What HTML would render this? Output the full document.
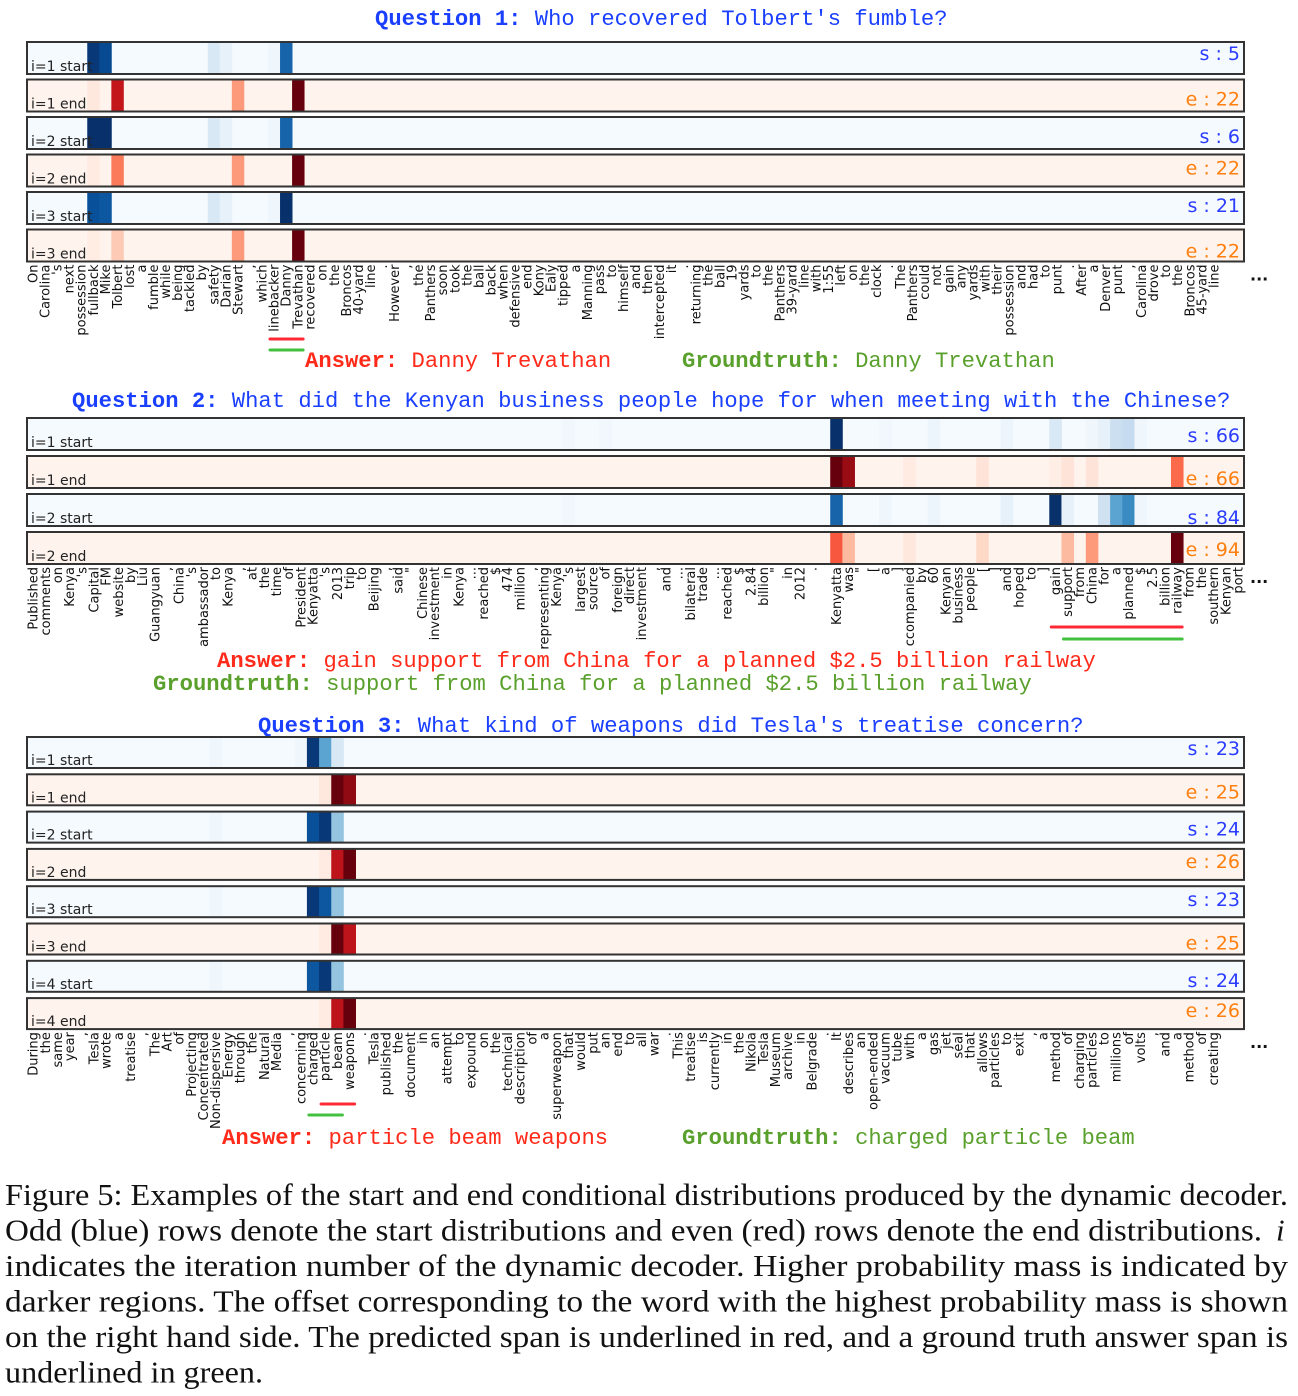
<!DOCTYPE html>
<html><head><meta charset="utf-8"><style>
html,body{margin:0;padding:0;background:#fff;}
svg{display:block;}
</style></head><body>
<svg id="fig" xmlns="http://www.w3.org/2000/svg" width="1298" height="1396" viewBox="0 0 1298 1396"></svg>
<script>
// ---------- data ----------
const tokens1 = ["On","Carolina","'s","next","possession","fullback","Mike","Tolbert","lost","a","fumble","while","being","tackled","by","safety","Darian","Stewart",",","which","linebacker","Danny","Trevathan","recovered","on","the","Broncos","40-yard","line",".","However",",","the","Panthers","soon","took","the","ball","back","when","defensive","end","Kony","Ealy","tipped","a","Manning","pass","to","himself","and","then","intercepted","it",".","returning","the","ball","19","yards","to","the","Panthers","39-yard","line","with","1:55","left","on","the","clock",".","The","Panthers","could","not","gain","any","yards","with","their","possession","and","had","to","punt",".","After","a","Denver","punt",",","Carolina","drove","to","the","Broncos","45-yard","line","",""];
const tokens2 = ["Published","comments","on","Kenya","'s","Capital","FM","website","by","Liu","Guangyuan",",","China","'s","ambassador","to","Kenya",",","at","the","time","of","President","Kenyatta","'s","2013","trip","to","Beijing",",","said","\"","Chinese","investment","in","Kenya","...","reached","$","474","million",",","representing","Kenya","'s","largest","source","of","foreign","direct","investment",",","and","...","bilateral","trade","...","reached","$","2.84","billion","\"","in","2012",".","","Kenyatta","was","\"","[","a","]","ccompanied","by","60","Kenyan","business","people","[","]","and","hoped","to","]","gain","support","from","China","for","a","planned","$","2.5","billion","railway","from","the","southern","Kenyan","port"];
const tokens3 = ["During","the","same","year",",","Tesla","wrote","a","treatise",",","The","Art","of","Projecting","Concentrated","Non-dispersive","Energy","through","the","Natural","Media",",","concerning","charged","particle","beam","weapons",".","Tesla","published","the","document","in","an","attempt","to","expound","on","the","technical","description","of","a","superweapon","that","would","put","an","end","to","all","war",".","This","treatise","is","currently","in","the","Nikola","Tesla","Museum","archive","in","Belgrade",".","It","describes","an","open-ended","vacuum","tube","with","a","gas","jet","seal","that","allows","particles","to","exit",",","a","method","of","charging","particles","to","millions","of","volts",",","and","a","method","of","creating","",""];

// sparse heat values per row: [tokenIndex, probability-intensity 0..1]
const p1r1 = [[5,0.97],[6,0.9],[15,0.15],[16,0.08],[20,0.04],[21,0.8]];
const p1r2 = [[5,0.08],[7,0.78],[17,0.35],[22,1.0]];
const p1r3 = [[5,1.0],[6,1.0],[15,0.15],[16,0.08],[20,0.04],[21,0.8]];
const p1r4 = [[5,0.06],[7,0.45],[17,0.35],[22,1.0]];
const p1r5 = [[5,0.88],[6,0.85],[15,0.15],[16,0.08],[20,0.04],[21,1.0]];
const p1r6 = [[5,0.05],[7,0.2],[17,0.35],[22,1.0]];
const p2r1 = [[44,0.03],[47,0.03],[66,1.0],[70,0.03],[74,0.05],[80,0.05],[84,0.15],[87,0.04],[88,0.08],[89,0.22],[90,0.25],[91,0.04]];
const p2r2 = [[66,1.0],[67,0.9],[72,0.06],[78,0.1],[84,0.04],[85,0.1],[87,0.1],[94,0.5]];
const p2r3 = [[44,0.03],[66,0.8],[70,0.04],[74,0.05],[80,0.08],[84,1.0],[85,0.08],[88,0.2],[89,0.55],[90,0.65],[91,0.04]];
const p2r4 = [[66,0.55],[67,0.25],[72,0.08],[78,0.15],[85,0.25],[87,0.35],[94,1.0]];
const p3r1 = [[15,0.04],[22,0.04],[23,0.97],[24,0.55],[25,0.15]];
const p3r2 = [[24,0.08],[25,1.0],[26,0.92]];
const p3r3 = [[15,0.04],[23,0.88],[24,0.97],[25,0.4]];
const p3r4 = [[24,0.06],[25,0.8],[26,1.0]];
const p3r5 = [[15,0.04],[23,0.97],[24,0.85],[25,0.4]];
const p3r6 = [[24,0.06],[25,1.0],[26,0.8]];
const p3r7 = [[15,0.04],[23,0.85],[24,0.97],[25,0.4]];
const p3r8 = [[24,0.06],[25,0.8],[26,1.0]];

const offsets1 = ["s : 5","e : 22","s : 6","e : 22","s : 21","e : 22"];
const offsets2 = ["s : 66","e : 66","s : 84","e : 94"];
const offsets3 = ["s : 23","e : 25","s : 24","e : 26","s : 23","e : 25","s : 24","e : 26"];

// ---------- helpers ----------
const NS = "http://www.w3.org/2000/svg";
const svg = document.getElementById('fig');
function mk(tag, attrs, parent){ const e=document.createElementNS(NS,tag); for(const k in attrs) e.setAttribute(k,attrs[k]); (parent||svg).appendChild(e); return e; }
const BL=["#f7fbff","#deebf7","#c6dbef","#9ecae1","#6baed6","#4292c6","#2171b5","#08519c","#08306b"];
const RD=["#fff5f0","#fee0d2","#fcbba1","#fc9272","#fb6a4a","#ef3b2c","#cb181d","#a50f15","#67000d"];
function hex(c){return [parseInt(c.substr(1,2),16),parseInt(c.substr(3,2),16),parseInt(c.substr(5,2),16)];}
function cmap(arr,v){ v=Math.max(0,Math.min(1,v)); const t=v*(arr.length-1); const i=Math.min(arr.length-2,Math.floor(t)); const f=t-i; const a=hex(arr[i]),b=hex(arr[i+1]); return "rgb("+a.map((x,k)=>Math.round(x+(b[k]-x)*f)).join(",")+")"; }

const X0=27, X1=1244;
function drawPanel(p){
  const n=p.tokens.length; const w=(X1-X0)/n;
  const xs = i => X0 + i*w;
  const g = mk('g',{});
  
  
  p.rows.forEach((row,r)=>{
    const isStart = r%2===0;
    const top = p.top + r*p.pitch;
    const rg = mk('g',{},g);
    
    
    const bgc = cmap(isStart?BL:RD, 0.01);
    mk('rect',{x:X0,y:top,width:X1-X0,height:p.h,fill:bgc},rg);
    row.forEach(([i,v])=>{
      const c = mk('rect',{x:xs(i).toFixed(2),y:top,width:(w+0.4).toFixed(2),height:p.h,fill:cmap(isStart?BL:RD,v)},rg);
      
      
    });
    mk('rect',{x:X0,y:top,width:X1-X0,height:p.h,fill:"none",stroke:"#333",'stroke-width':2},rg);
    const lab = mk('text',{x:31,y:top+p.h-3,'font-family':'DejaVu Sans, Liberation Sans, sans-serif','font-size':14,fill:'#222'},rg);
    lab.textContent = 'i='+(Math.floor(r/2)+1)+(isStart?' start':' end');
    
    
    const off = mk('text',{x:1240,y:top+p.offY[r],'text-anchor':'end','font-family':'DejaVu Sans, Liberation Sans, sans-serif','font-size':19,fill:isStart?'#2a3cff':'#ff7f0e'},rg);
    off.textContent = p.offsets[r];
    
    
  });
  const ly = p.top + (p.rows.length-1)*p.pitch + p.h + 3;
  p.tokens.forEach((t,i)=>{
    if(!t) return;
    const cx = xs(i)+w/2+4.5;
    const tx = mk('text',{x:0,y:0,transform:`translate(${cx.toFixed(2)},${ly}) rotate(-90)`,'text-anchor':'end','font-family':'DejaVu Sans, Liberation Sans, sans-serif','font-size':13,fill:'#111'},g);
    tx.textContent=t;
    
    
  });
  const el = mk('text',{x:1250,y:ly+16,'font-family':'DejaVu Sans, sans-serif','font-size':16,'font-weight':'bold',fill:'#111'},g);
  el.textContent='...';
  
  
  p.unders.forEach(([a,b,y,col])=>{
    const ln = mk('line',{x1:xs(a)+2,x2:xs(b+1)-1,y1:y,y2:y,stroke:col,'stroke-width':3,'stroke-linecap':'round'},g);
    
    
  });
}

function title(x,y,label,rest,name){
  const t = mk('text',{x:x,y:y,'font-family':'Liberation Mono, monospace','font-size':22.2,fill:'#1a3fff'});
  
  
  const a=mk('tspan',{'font-weight':'bold'},t); a.textContent=label;
  const b=mk('tspan',{},t); b.textContent=rest;
}
function ans(x,y,label,rest,col,name){
  const t = mk('text',{x:x,y:y,'font-family':'Liberation Mono, monospace','font-size':22.2,fill:col});
  
  
  const a=mk('tspan',{'font-weight':'bold'},t); a.textContent=label;
  const b=mk('tspan',{},t); b.textContent=rest;
}

title(375,25,"Question 1:"," Who recovered Tolbert's fumble?","question-1-title");
drawPanel({name:'panel-q1',tokens:tokens1,top:42,pitch:37.5,h:32,rows:[p1r1,p1r2,p1r3,p1r4,p1r5,p1r6],offsets:offsets1,offY:[18,26,26,20,20,28],
  unders:[[20,22,339,'#ff2a35'],[20,22,350,'#44c040']]});
ans(305,367,"Answer:"," Danny Trevathan",'#ff2a1a','answer-1');
ans(682,367,"Groundtruth:"," Danny Trevathan",'#5aa02c','groundtruth-1');

title(72,407,"Question 2:"," What did the Kenyan business people hope for when meeting with the Chinese?","question-2-title");
drawPanel({name:'panel-q2',tokens:tokens2,top:418,pitch:38,h:32,rows:[p2r1,p2r2,p2r3,p2r4],offsets:offsets2,offY:[24,29,30,24],
  unders:[[84,94,627,'#ff2a35'],[85,94,639,'#44c040']]});
ans(217,667,"Answer:"," gain support from China for a planned $2.5 billion railway",'#ff2a1a','answer-2');
ans(153,690,"Groundtruth:"," support from China for a planned $2.5 billion railway",'#5aa02c','groundtruth-2');

title(258,732,"Question 3:"," What kind of weapons did Tesla's treatise concern?","question-3-title");
drawPanel({name:'panel-q3',tokens:tokens3,top:737,pitch:37.3,h:31,rows:[p3r1,p3r2,p3r3,p3r4,p3r5,p3r6,p3r7,p3r8],offsets:offsets3,offY:[18,24,24,19,20,26,26,19],
  unders:[[24,26,1104,'#ff2a35'],[23,25,1115,'#44c040']]});
ans(222,1144,"Answer:"," particle beam weapons",'#ff2a1a','answer-3');
ans(682,1144,"Groundtruth:"," charged particle beam",'#5aa02c','groundtruth-3');

// caption
const capLines = [
 ["Figure 5: Examples of the start and end conditional distributions produced by the dynamic decoder.",1283],
 ["Odd (blue) rows denote the start distributions and even (red) rows denote the end distributions.",1257],
 ["indicates the iteration number of the dynamic decoder.  Higher probability mass is indicated by",1283],
 ["darker regions.  The offset corresponding to the word with the highest probability mass is shown",1283],
 ["on the right hand side.  The predicted span is underlined in red, and a ground truth answer span is",1283],
 ["underlined in green.",258]
];
const cap = mk('g',{});


capLines.forEach(([s,len],k)=>{
  const t = mk('text',{x:5,y:1205+k*35.5,'font-family':'Liberation Serif, serif','font-size':31,fill:'#111',textLength:len,lengthAdjust:'spacingAndGlyphs','xml:space':'preserve'},cap);
  t.textContent=s;
});
const it = mk('text',{x:1276,y:1240.5,'font-family':'Liberation Serif, serif','font-size':31,'font-style':'italic',fill:'#111'},cap);
it.textContent='i';
</script>
</body></html>
